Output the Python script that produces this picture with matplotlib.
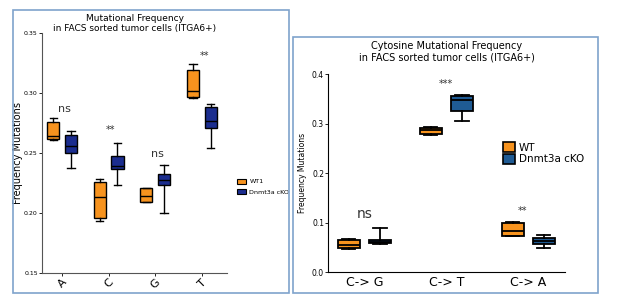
import matplotlib
matplotlib.use("Agg")
import matplotlib.pyplot as plt
from matplotlib.patches import Rectangle, Patch

# left panel: whislo, q1, med, q3, whishi
bases = ["A", "C", "G", "T"]
wt1_box = [[0.261, 0.2614, 0.2642, 0.276, 0.2789],
           [0.1933, 0.1961, 0.2136, 0.2261, 0.2283],
           [0.2089, 0.2089, 0.2142, 0.2206, 0.2206],
           [0.2956, 0.2964, 0.3019, 0.3192, 0.3242]]
ko1_box = [[0.2378, 0.2503, 0.2558, 0.265, 0.2686],
           [0.2233, 0.2364, 0.2394, 0.2475, 0.258],
           [0.1997, 0.2233, 0.2275, 0.2322, 0.24],
           [0.2544, 0.2711, 0.2769, 0.2881, 0.2906]]
sig1 = ["ns", "**", "ns", "**"]
sig1_y = [0.287, 0.269, 0.249, 0.331]

# right panel
subs = ["C-> G", "C-> T", "C-> A"]
wt2_box = [[0.046, 0.048, 0.0547, 0.0648, 0.066],
           [0.278, 0.279, 0.2874, 0.292, 0.294],
           [0.072, 0.0729, 0.083, 0.0986, 0.102]]
ko2_box = [[0.057, 0.058, 0.0613, 0.0648, 0.0897],
           [0.305, 0.326, 0.347, 0.355, 0.358],
           [0.049, 0.056, 0.0627, 0.0694, 0.075]]
sig2 = ["ns", "***", "**"]
sig2_y = [0.118, 0.381, 0.124]

orange = "#F7931E"
navy = "#1B2D8F"
blue2 = "#1F5B94"
frame = "#7FA3CC"


def stats(rows):
    return [dict(whislo=r[0], q1=r[1], med=r[2], q3=r[3], whishi=r[4], fliers=[]) for r in rows]


def draw(ax, rows, pos, w, color, lw):
    ax.bxp(stats(rows), positions=pos, widths=w, patch_artist=True, showfliers=False,
           boxprops=dict(facecolor=color, edgecolor="black", linewidth=lw),
           medianprops=dict(color="black", linewidth=lw),
           whiskerprops=dict(color="black", linewidth=lw),
           capprops=dict(color="black", linewidth=lw), capwidths=w * 0.6)


fig = plt.figure(figsize=(6.17, 3.03), dpi=100)
fig.patches.append(Rectangle((13 / 617, 1 - 293 / 303), 276 / 617, 283 / 303,
                             transform=fig.transFigure, fill=False, ec=frame, lw=1.2))
fig.patches.append(Rectangle((293 / 617, 1 - 293 / 303), 305 / 617, 256 / 303,
                             transform=fig.transFigure, fill=False, ec=frame, lw=1.2))

# left
ax1 = fig.add_axes([0.068, 0.099, 0.300, 0.792])
p = list(range(1, len(bases) + 1))
draw(ax1, wt1_box, [x - 0.19 for x in p], 0.26, orange, 1.0)
draw(ax1, ko1_box, [x + 0.19 for x in p], 0.26, navy, 1.0)
ax1.set_xlim(0.57, 4.54)
ax1.set_ylim(0.15, 0.35)
ax1.set_yticks([0.15, 0.20, 0.25, 0.30, 0.35])
ax1.set_yticklabels(["0.15", "0.20", "0.25", "0.30", "0.35"], fontsize=4.5)
ax1.set_xticks(p)
ax1.set_xticklabels(bases, fontsize=8, rotation=45)
for s in ["top", "right"]:
    ax1.spines[s].set_visible(False)
for s in ["left", "bottom"]:
    ax1.spines[s].set_color("#555555")
ax1.tick_params(length=2, width=0.6, pad=1)
ax1.set_ylabel("Frequency Mutations", fontsize=7)
ax1.yaxis.set_label_coords(-0.105, 0.5)
ax1.set_title("Mutational Frequency\nin FACS sorted tumor cells (ITGA6+)", fontsize=6.5, pad=1.5)
for x, t, y in zip(p, sig1, sig1_y):
    ax1.text(x + 0.05, y, t, ha="center", va="center", fontsize=8 if t == "ns" else 7, color="#333333")
ax1.legend(handles=[Patch(fc=orange, ec="black", lw=0.8, label="WT1"),
                    Patch(fc=navy, ec="black", lw=0.8, label="Dnmt3a cKO")],
           loc="center left", bbox_to_anchor=(1.02, 0.36), frameon=False, fontsize=4.6,
           handlelength=1.5, handleheight=0.9, handletextpad=0.5, labelspacing=0.7)

# right
ax2 = fig.add_axes([0.532, 0.102, 0.384, 0.653])
q = list(range(1, len(subs) + 1))
draw(ax2, wt2_box, [x - 0.19 for x in q], 0.27, orange, 1.3)
draw(ax2, ko2_box, [x + 0.19 for x in q], 0.27, blue2, 1.3)
ax2.set_xlim(0.56, 3.45)
ax2.set_ylim(0.0, 0.4)
ax2.set_yticks([0.0, 0.1, 0.2, 0.3, 0.4])
ax2.set_yticklabels(["0.0", "0.1", "0.2", "0.3", "0.4"], fontsize=5.5)
ax2.set_xticks(q)
ax2.set_xticklabels(subs, fontsize=9)
for s in ["top", "right"]:
    ax2.spines[s].set_visible(False)
ax2.tick_params(length=2, width=0.6, pad=1)
ax2.tick_params(axis="x", length=0, pad=3)
ax2.set_ylabel("Frequency Mutations", fontsize=5.5)
ax2.yaxis.set_label_coords(-0.089, 0.5)
ax2.set_title("Cytosine Mutational Frequency\nin FACS sorted tumor cells (ITGA6+)", fontsize=7, pad=10)
for x, t, y in zip(q, sig2, sig2_y):
    ax2.text(x - (0.07 if t == "**" else 0), y, t, ha="center", va="center",
             fontsize=10 if t == "ns" else 7, color="#333333")
ax2.legend(handles=[Patch(fc=orange, ec="black", lw=1.2, label="WT"),
                    Patch(fc=blue2, ec="black", lw=1.2, label="Dnmt3a cKO")],
           loc="center left", bbox_to_anchor=(0.7, 0.6), frameon=False, fontsize=7.5,
           handlelength=1.1, handleheight=1.1, handletextpad=0.4, labelspacing=0.1)

fig.savefig("out.png", dpi=100)
